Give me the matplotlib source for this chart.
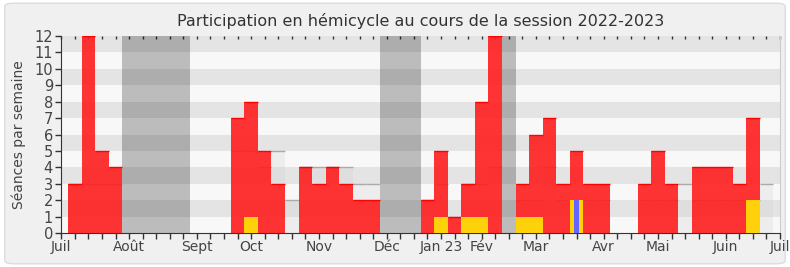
import matplotlib
matplotlib.use("Agg")
import matplotlib.pyplot as plt
from matplotlib.patches import FancyBboxPatch

# weeks of the session, bar k is centred on tick k
weeks = list(range(1, 53))

# seances en hemicycle per week (red)
presence = [3, 12, 5, 4, 0, 0, 0, 0, 0, 0, 0, 0, 7, 8, 5, 3, 0, 4, 3, 4,
            3, 2, 2, 0, 0, 0, 2, 5, 1, 3, 8, 12, 0, 3, 6, 7, 3, 5, 3, 3,
            0, 0, 3, 5, 3, 0, 4, 4, 4, 3, 7, 0]
# interventions (yellow)
interventions = [0, 0, 0, 0, 0, 0, 0, 0, 0, 0, 0, 0, 0, 1, 0, 0, 0, 0, 0, 0,
                 0, 0, 0, 0, 0, 0, 0, 1, 0, 1, 1, 0, 0, 1, 1, 0, 0, 2, 0, 0,
                 0, 0, 0, 0, 0, 0, 0, 0, 0, 0, 2, 0]
# questions orales (blue)
questions = [0] * 37 + [2] + [0] * 14
# median of all deputies (light grey step)
median = [3, 3, 3, 3, 0, 0, 0, 0, 0, 0, 0, 0, 5, 5, 4, 5, 2, 4, 4, 4,
          4, 3, 3, 0, 0, 0, 2, 3, 1, 3, 3, 4, 0, 2, 2, 4, 2, 2, 2, 2,
          0, 0, 2, 2, 2, 3, 2, 2, 2, 2, 2, 3]
# parliamentary holidays
vacances = [5, 6, 7, 8, 9, 24, 25, 26, 33]

month_labels = ["Juil", "Août", "Sept", "Oct", "Nov", "Déc", "Jan 23", "Fév",
                "Mar", "Avr", "Mai", "Juin", "Juil"]
month_weeks = [0, 5, 10, 14, 19, 24, 28, 31, 35, 40, 44, 49, 53]

plt.rcParams['font.family'] = ['DejaVu Sans']
txt = '#444444'

fig = plt.figure(figsize=(7.9, 2.67), dpi=100)
fig.patch.set_facecolor('white')
fig.patches.append(FancyBboxPatch((0.006, 0.012), 0.988, 0.976,
                                  boxstyle="round,pad=0,rounding_size=0.012",
                                  transform=fig.transFigure, facecolor='#f0f0f0',
                                  edgecolor='#dcdcdc', linewidth=1.0, zorder=-10))

ax = fig.add_axes([61.3 / 790, 1 - 233 / 267, (780 - 61.3) / 790, (233 - 36) / 267])
ax.set_facecolor('#f8f8f8')
ax.set_xlim(0, 53)
ax.set_ylim(0, 12)

# background stripes
for v in range(1, 12, 2):
    ax.axhspan(v, v + 1, color='#e4e4e4', lw=0, zorder=0)

# holidays
for w in vacances:
    ax.axvspan(w - 0.5, w + 0.5, color='black', alpha=0.24, lw=0, zorder=1)

# median of deputies
ax.bar(weeks, median, width=1.0, color='#d0d0d0', alpha=0.25, lw=0, zorder=2)
for w, m in zip(weeks, median):
    if m > 0:
        ax.hlines(m, w - 0.5, w + 0.5, color='#aaaaaa', lw=1.0, zorder=2)

# presence
ax.bar(weeks, presence, width=1.0, color='#ff1d1d', alpha=0.9, lw=0, zorder=3)
for w, p in zip(weeks, presence):
    if p > 0:
        ax.hlines(p, w - 0.5, w + 0.5, color='#ff0000', lw=1.0, zorder=3)

ax.bar(weeks, interventions, width=1.0, color='#ffd10a', lw=0, zorder=4)
qw = [w for w, q in zip(weeks, questions) if q > 0]
qv = [q for q in questions if q > 0]
ax.bar(qw, qv, width=0.4, color='#6464ff', lw=0, zorder=5)

ax.set_title("Participation en hémicycle au cours de la session 2022-2023",
             fontsize=11.5, color='#333333', pad=7)
ax.set_ylabel("Séances par semaine", fontsize=10, color=txt, labelpad=6)

ax.set_yticks(range(13))
ax.set_xticks(range(54))
xlabels = [''] * 54
for m, w in zip(month_labels, month_weeks):
    xlabels[w] = m
ax.set_xticklabels(xlabels)
ax.tick_params(axis='x', direction='out', length=4, width=1, color='#333333',
               labelsize=10, labelcolor=txt, pad=1)
ax.tick_params(axis='y', direction='out', length=4, width=1, color='#333333',
               labelsize=10.5, labelcolor=txt, pad=2)

top = ax.secondary_xaxis('top')
top.set_xticks(range(54))
top.tick_params(direction='in', length=2, width=1, color='#333333', labeltop=False)
top.spines['top'].set_visible(False)

ax.spines['top'].set_visible(False)
ax.spines['right'].set_color('#cccccc')
ax.spines['left'].set_color('#333333')
ax.spines['bottom'].set_color('#333333')

fig.savefig('out.png', dpi=100)
